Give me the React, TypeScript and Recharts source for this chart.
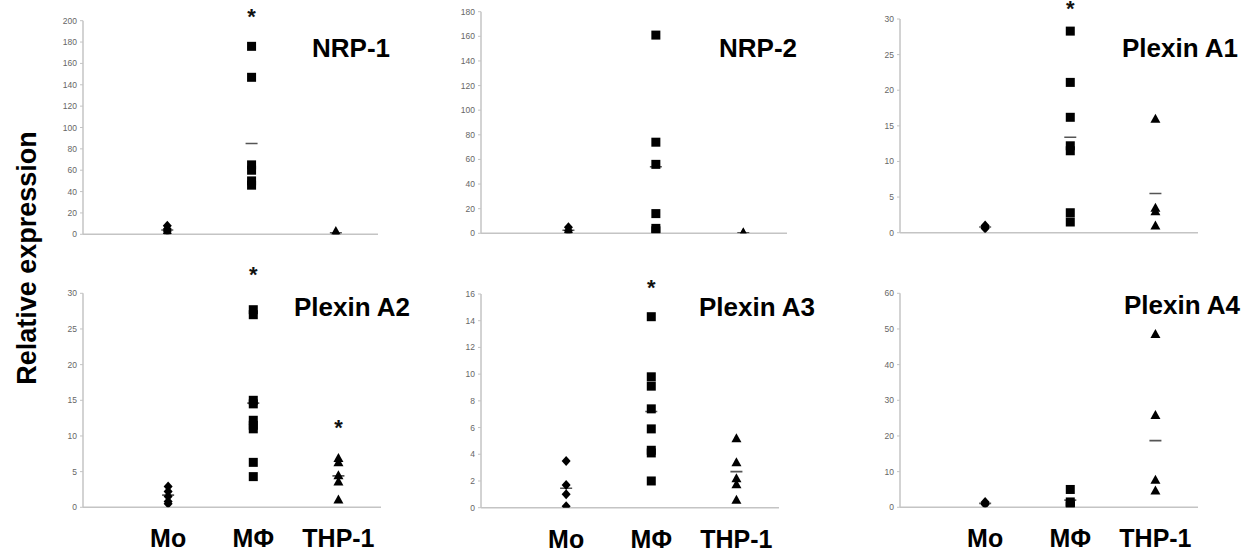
import React from 'react';
import { ScatterChart, Scatter, XAxis, YAxis, ReferenceLine } from 'recharts';

const groups = ['Mo', 'MΦ', 'THP-1'];

// NRP-1
const nrp1Mo = [8, 5, 3, 1];
const nrp1Mphi = [176, 147, 65, 60, 50, 46];
const nrp1Thp = [3, 1, 0.5];
const nrp1Means = [4, 85, 1.5];
const nrp1Stars = [null, 208, null];
const nrp1Ticks = [0, 20, 40, 60, 80, 100, 120, 140, 160, 180, 200];

// NRP-2
const nrp2Mo = [5, 2, 0.5];
const nrp2Mphi = [161, 74, 56, 16, 4, 2];
const nrp2Thp = [0.8, 0.3];
const nrp2Means = [2.5, 54, 0.5];
const nrp2Stars = [null, null, null];
const nrp2Ticks = [0, 20, 40, 60, 80, 100, 120, 140, 160, 180];

// Plexin A1
const a1Mo = [1.0, 0.8, 0.6];
const a1Mphi = [28.3, 21.1, 16.2, 12.2, 11.5, 2.8, 1.5];
const a1Thp = [16, 3.5, 3.0, 1.0];
const a1Means = [0.8, 13.4, 5.5];
const a1Stars = [null, 32.1, null];
const a1Ticks = [0, 5, 10, 15, 20, 25, 30];

// Plexin A2
const a2Mo = [2.9, 2.2, 1.5, 0.8, 0.5];
const a2Mphi = [27.7, 27.0, 15.0, 14.5, 12.2, 11.5, 11.0, 6.3, 4.3];
const a2Thp = [6.9, 6.3, 4.5, 3.6, 1.1];
const a2Means = [1.7, 14.6, 4.4];
const a2Stars = [null, 33.3, 11.8];
const a2Ticks = [0, 5, 10, 15, 20, 25, 30];

// Plexin A3
const a3Mo = [3.5, 1.7, 1.0, 0.1];
const a3Mphi = [14.3, 9.8, 9.1, 7.4, 5.9, 4.3, 4.1, 2.0];
const a3Thp = [5.2, 3.4, 2.2, 1.75, 0.6];
const a3Means = [1.45, 7.2, 2.7];
const a3Stars = [null, 16.8, null];
const a3Ticks = [0, 2, 4, 6, 8, 10, 12, 14, 16];

// Plexin A4
const a4Mo = [1.5, 1.1, 0.8];
const a4Mphi = [5.0, 1.5, 0.7, 0.2];
const a4Thp = [48.6, 25.9, 7.7, 4.7];
const a4Means = [1.1, 2.0, 18.7];
const a4Stars = [null, null, null];
const a4Ticks = [0, 10, 20, 30, 40, 50, 60];

const FONT = '"Liberation Sans", Arial, sans-serif';
const AXIS = '#c4c4c4';

const pts = (vals: number[], x: number) => vals.map((y) => ({ x, y }));
const groupPts = (vals: (number | null)[]) =>
  vals.map((y, i) => ({ x: i + 1, y })).filter((d) => d.y !== null);

const Diamond = (p: any) => (
  <polygon points={`${p.cx},${p.cy - 5} ${p.cx + 4.5},${p.cy} ${p.cx},${p.cy + 5} ${p.cx - 4.5},${p.cy}`} fill="#000" />
);
const Square = (p: any) => <rect x={p.cx - 4.5} y={p.cy - 4.5} width={9} height={9} fill="#000" />;
const Triangle = (p: any) => (
  <polygon points={`${p.cx},${p.cy - 5} ${p.cx + 5},${p.cy + 4} ${p.cx - 5},${p.cy + 4}`} fill="#000" />
);
const Dash = (p: any) => <line x1={p.cx - 6} x2={p.cx + 6} y1={p.cy} y2={p.cy} stroke="#555" strokeWidth={1.6} />;
const Star = (p: any) => (
  <text x={p.cx} y={p.cy + 12} textAnchor="middle" fontSize={22} fontWeight="bold" fontFamily={FONT} fill="#111">
    *
  </text>
);

const GroupTick = (p: any) => (
  <text x={p.x} y={p.y + 32} textAnchor="middle" fontSize={25} fontWeight="bold" fontFamily={FONT} fill="#000">
    {groups[p.payload.value - 1]}
  </text>
);

type PanelProps = {
  name: string;
  nameX: number;
  nameY: number;
  x0: number;
  x1: number;
  yTop: number;
  y0: number;
  top: number;
  ticks: number[];
  mo: number[];
  mphi: number[];
  thp: number[];
  means: number[];
  stars: (number | null)[];
  labels: boolean;
};

const Panel = (p: PanelProps) => {
  const tickMax = p.ticks[p.ticks.length - 1];
  const scale = (p.y0 - p.yTop) / tickMax;
  const dmax = (p.y0 - p.top) / scale;
  const yw = 40;
  const left = p.x0 - yw;
  const xh = p.labels ? 46 : 6;
  const width = p.x1 - left + 4;
  const height = p.y0 - p.top + xh;
  return (
    <>
      <div style={{ position: 'absolute', left, top: p.top }}>
        <ScatterChart width={width} height={height} margin={{ top: 0, right: 4, bottom: 0, left: 0 }}>
          <XAxis
            type="number"
            dataKey="x"
            domain={[0, 3.5]}
            ticks={[1, 2, 3]}
            height={xh}
            axisLine={{ stroke: AXIS, strokeWidth: 1.5 }}
            tickLine={false}
            tick={p.labels ? GroupTick : false}
            allowDataOverflow
          />
          <YAxis
            type="number"
            dataKey="y"
            domain={[0, dmax]}
            ticks={p.ticks}
            width={yw}
            axisLine={false}
            tickLine={{ stroke: AXIS }}
            tickSize={3}
            tickMargin={3}
            tick={{ fontSize: 8.5, fill: '#666', fontFamily: FONT }}
            allowDataOverflow
          />
          <ReferenceLine segment={[{ x: 0, y: 0 }, { x: 0, y: tickMax }]} stroke={AXIS} strokeWidth={1.5} ifOverflow="visible" />
          <Scatter data={groupPts(p.means)} shape={Dash} isAnimationActive={false} />
          <Scatter data={pts(p.mo, 1)} shape={Diamond} isAnimationActive={false} />
          <Scatter data={pts(p.mphi, 2)} shape={Square} isAnimationActive={false} />
          <Scatter data={pts(p.thp, 3)} shape={Triangle} isAnimationActive={false} />
          <Scatter data={groupPts(p.stars)} shape={Star} isAnimationActive={false} />
        </ScatterChart>
      </div>
      <div
        style={{
          position: 'absolute',
          left: p.nameX,
          top: p.nameY,
          transform: 'translate(-50%, -50%)',
          whiteSpace: 'nowrap',
          fontFamily: FONT,
          fontWeight: 'bold',
          fontSize: 26,
          lineHeight: 1,
          color: '#000',
        }}
      >
        {p.name}
      </div>
    </>
  );
};

export default function App() {
  return (
    <div style={{ position: 'absolute', left: 0, top: 0, width: 1259, height: 556, background: '#fff', overflow: 'hidden' }}>
      <Panel name="NRP-1" nameX={351} nameY={48} x0={83} x1={378} yTop={20.7} y0={234.3} top={0} ticks={nrp1Ticks}
        mo={nrp1Mo} mphi={nrp1Mphi} thp={nrp1Thp} means={nrp1Means} stars={nrp1Stars} labels={false} />
      <Panel name="NRP-2" nameX={758} nameY={48} x0={481} x1={787} yTop={11.7} y0={233.3} top={0} ticks={nrp2Ticks}
        mo={nrp2Mo} mphi={nrp2Mphi} thp={nrp2Thp} means={nrp2Means} stars={nrp2Stars} labels={false} />
      <Panel name="Plexin A1" nameX={1180} nameY={48} x0={900} x1={1198} yTop={19} y0={232.7} top={0} ticks={a1Ticks}
        mo={a1Mo} mphi={a1Mphi} thp={a1Thp} means={a1Means} stars={a1Stars} labels={false} />
      <Panel name="Plexin A2" nameX={352} nameY={307} x0={83} x1={381} yTop={293.3} y0={507.3} top={258} ticks={a2Ticks}
        mo={a2Mo} mphi={a2Mphi} thp={a2Thp} means={a2Means} stars={a2Stars} labels={true} />
      <Panel name="Plexin A3" nameX={757} nameY={307} x0={481} x1={779} yTop={294} y0={507.7} top={258} ticks={a3Ticks}
        mo={a3Mo} mphi={a3Mphi} thp={a3Thp} means={a3Means} stars={a3Stars} labels={true} />
      <Panel name="Plexin A4" nameX={1182} nameY={305} x0={900} x1={1198} yTop={293.3} y0={507.3} top={258} ticks={a4Ticks}
        mo={a4Mo} mphi={a4Mphi} thp={a4Thp} means={a4Means} stars={a4Stars} labels={true} />
      <div
        style={{
          position: 'absolute',
          left: 27,
          top: 258,
          transform: 'translate(-50%, -50%) rotate(-90deg)',
          whiteSpace: 'nowrap',
          fontFamily: FONT,
          fontWeight: 'bold',
          fontSize: 27,
          lineHeight: 1,
          color: '#000',
        }}
      >
        Relative expression
      </div>
    </div>
  );
}
